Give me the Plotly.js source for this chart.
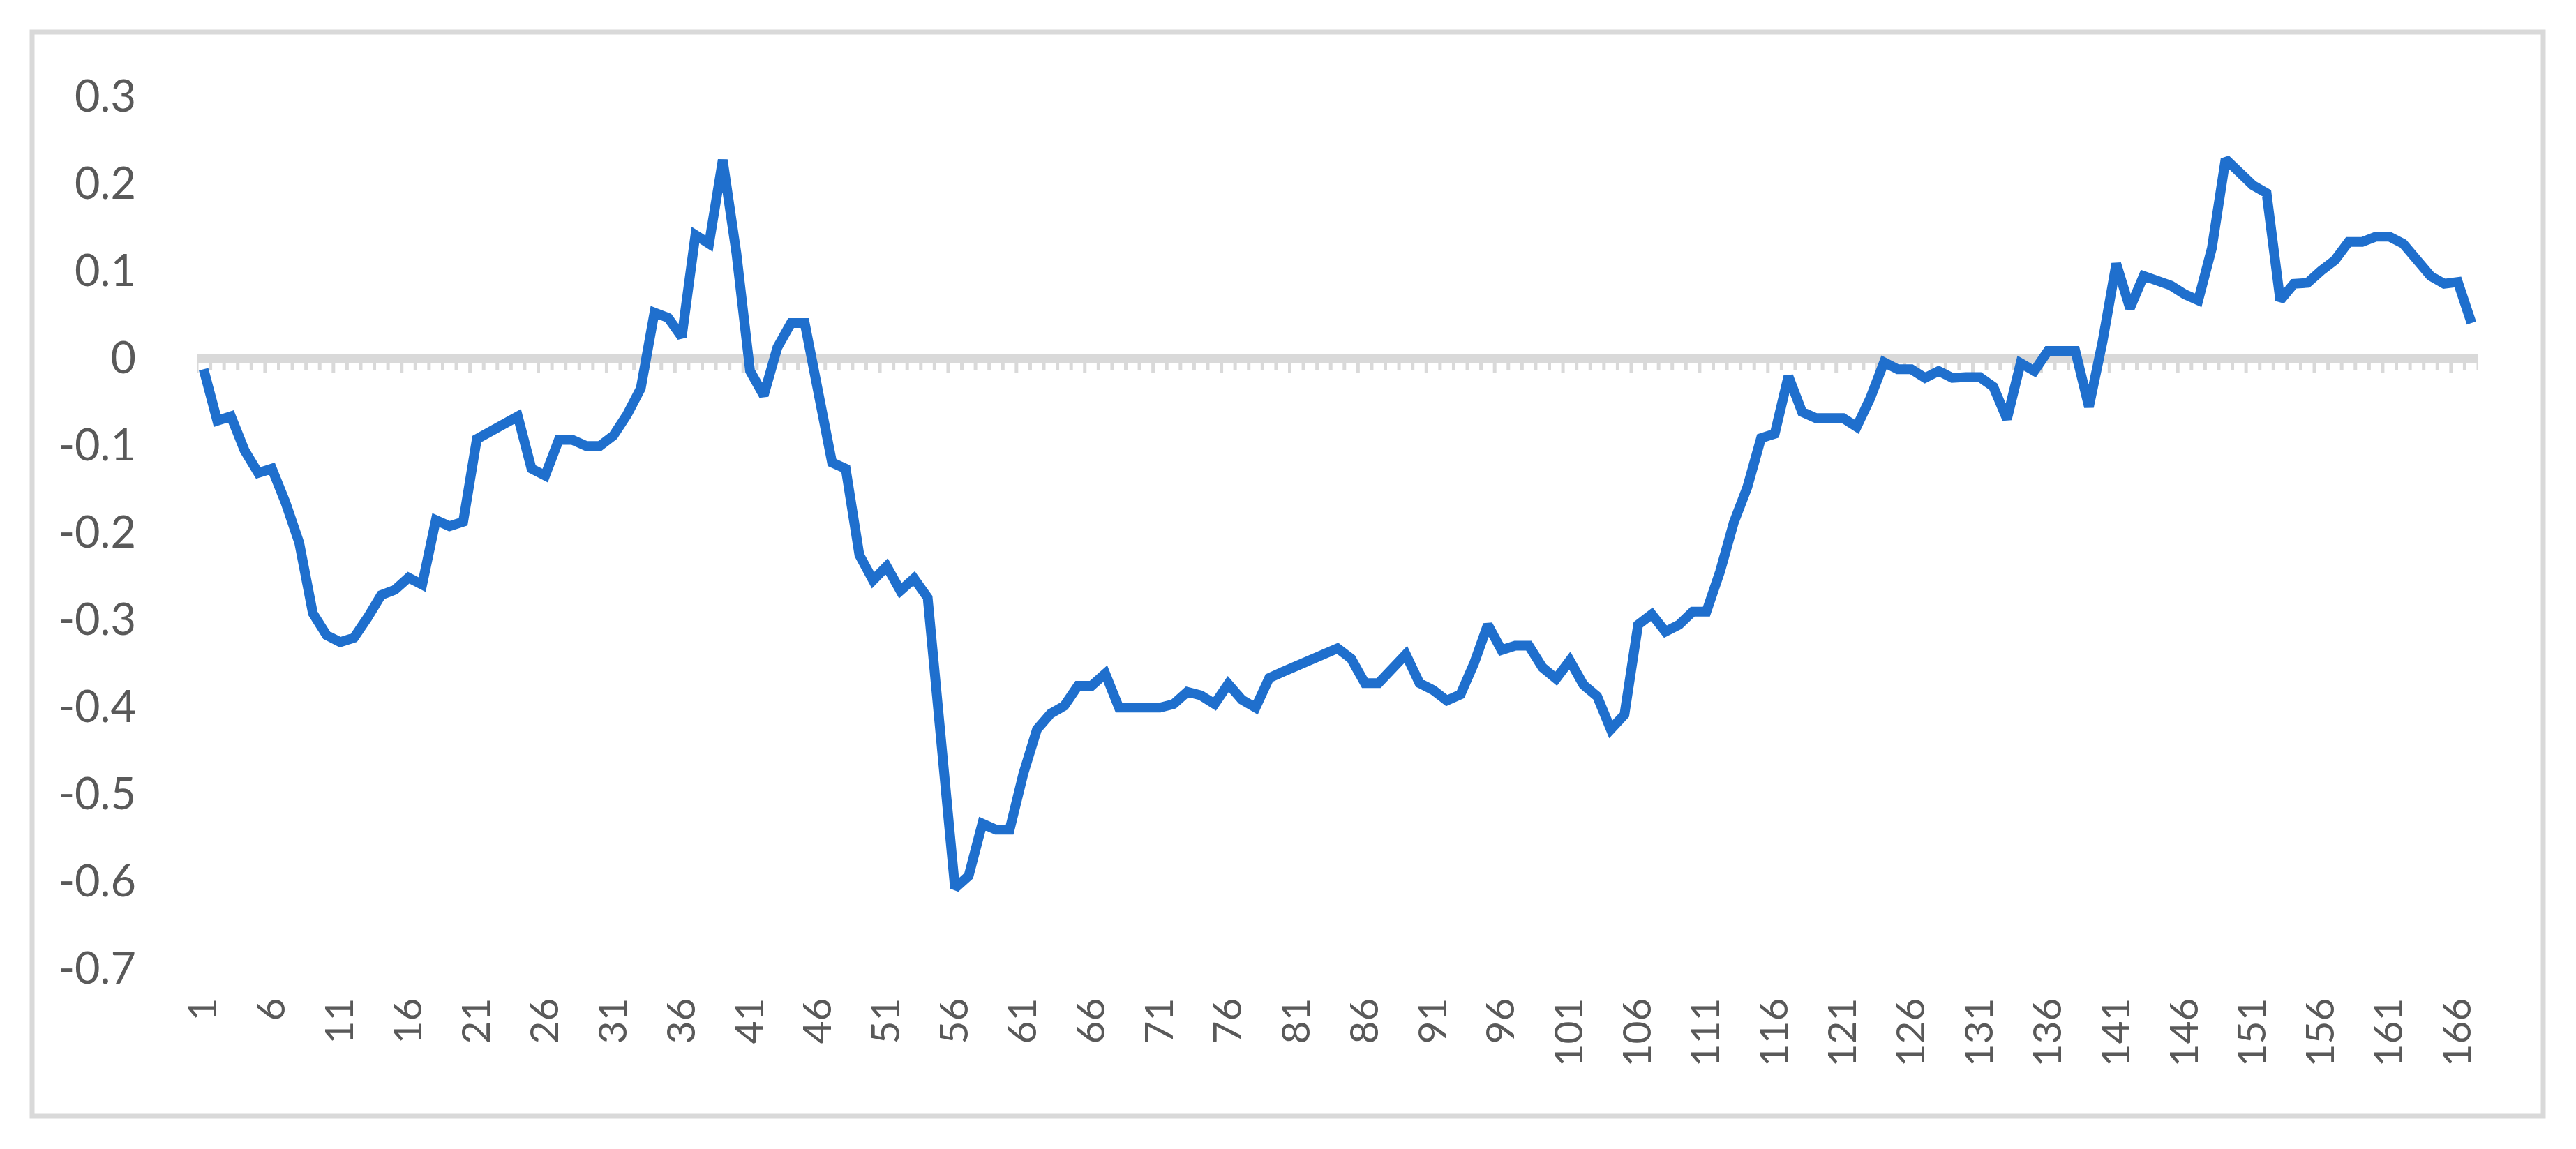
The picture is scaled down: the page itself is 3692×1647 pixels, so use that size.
<!DOCTYPE html>
<html>
<head>
<meta charset="utf-8">
<script src="https://cdn.plot.ly/plotly-3.0.1.min.js"></script>
<style>
html, body { margin: 0; padding: 0; background: #ffffff; }
#chart { width: 3692px; height: 1647px; }
</style>
</head>
<body>
<div id="chart"></div>
<script>
// ---- data ----
const values = [
  -0.013, -0.072, -0.067, -0.106, -0.132, -0.127, -0.166, -0.212, -0.293, -0.318,
  -0.326, -0.321, -0.298, -0.272, -0.266, -0.252, -0.260, -0.186, -0.193, -0.188,
  -0.093, -0.085, -0.076, -0.067, -0.127, -0.135, -0.094, -0.094, -0.101, -0.101,
  -0.089, -0.065, -0.035, 0.052, 0.046, 0.024, 0.141, 0.131, 0.227, 0.120,
  -0.015, -0.043, 0.012, 0.040, 0.040, -0.040, -0.120, -0.127, -0.226, -0.255,
  -0.239, -0.267, -0.253, -0.275, -0.440, -0.608, -0.594, -0.534, -0.541, -0.541,
  -0.477, -0.426, -0.408, -0.399, -0.376, -0.376, -0.362, -0.401, -0.401, -0.401,
  -0.401, -0.397, -0.383, -0.387, -0.397, -0.374, -0.392, -0.401, -0.367, -0.360,
  -0.353, -0.346, -0.339, -0.333, -0.345, -0.373, -0.373, -0.357, -0.340, -0.373,
  -0.381, -0.393, -0.386, -0.350, -0.306, -0.335, -0.330, -0.330, -0.355, -0.368,
  -0.347, -0.375, -0.388, -0.426, -0.409, -0.306, -0.294, -0.314, -0.306, -0.291,
  -0.291, -0.245, -0.189, -0.148, -0.092, -0.087, -0.021, -0.062, -0.069, -0.069,
  -0.069, -0.079, -0.046, -0.005, -0.013, -0.013, -0.023, -0.015, -0.023, -0.022,
  -0.022, -0.033, -0.070, -0.006, -0.015, 0.008, 0.008, 0.008, -0.056, 0.019,
  0.108, 0.057, 0.094, 0.089, 0.083, 0.073, 0.066, 0.126, 0.228, 0.213,
  0.198, 0.189, 0.066, 0.085, 0.086, 0.100, 0.112, 0.133, 0.133, 0.139,
  0.139, 0.131, 0.114, 0.094, 0.085, 0.087, 0.040
];
const categories = values.map((_, i) => i + 1);

const xTickVals = [1, 6, 11, 16, 21, 26, 31, 36, 41, 46, 51, 56, 61, 66, 71, 76, 81, 86,
  91, 96, 101, 106, 111, 116, 121, 126, 131, 136, 141, 146, 151, 156, 161, 166];
const xTickLabels = ['1', '6', '11', '16', '21', '26', '31', '36', '41', '46', '51', '56',
  '61', '66', '71', '76', '81', '86', '91', '96', '101', '106', '111', '116', '121', '126',
  '131', '136', '141', '146', '151', '156', '161', '166'];

const yTickVals = [0.3, 0.2, 0.1, 0, -0.1, -0.2, -0.3, -0.4, -0.5, -0.6, -0.7];
const yTickLabels = ['0.3', '0.2', '0.1', '0', '-0.1', '-0.2', '-0.3', '-0.4', '-0.5', '-0.6', '-0.7'];

// ---- layout geometry ----
const W = 3692, H = 1647;
const M = { l: 282, r: 140, t: 138, b: 259 };
const yMin = -0.7, yMax = 0.3;
const px2x = p => (p - M.l) / (W - M.l - M.r);
const py2y = p => (H - M.b - p) / (H - M.t - M.b);

const FONT = 'Lato, "Open Sans", "Noto Sans", sans-serif';
const GRAY_TXT = '#595959';
const AXIS_GRAY = '#d9d9d9';

const trace = {
  type: 'scatter',
  mode: 'lines',
  x: categories,
  y: values,
  line: { color: '#1f6fcd', width: 14, shape: 'linear' },
  hoverinfo: 'skip',
  showlegend: false
};

// tick marks hanging under the horizontal (value = 0) category axis, one per category boundary
const axisTicks = [];
for (let k = 0; k <= categories.length; k++) {
  axisTicks.push({
    type: 'line',
    xref: 'x', yref: 'y',
    x0: k + 0.5, x1: k + 0.5,
    ysizemode: 'pixel', yanchor: 0,
    y0: -4, y1: (k % 5 === 0) ? -22 : -18,
    line: { color: AXIS_GRAY, width: 5 },
    layer: 'below'
  });
}

const layout = {
  width: W,
  height: H,
  margin: M,
  paper_bgcolor: '#ffffff',
  plot_bgcolor: '#ffffff',
  showlegend: false,
  font: { family: FONT, color: GRAY_TXT, size: 64 },
  xaxis: {
    type: 'linear',
    range: [0.5, categories.length + 0.5],
    tickmode: 'array',
    tickvals: xTickVals,
    ticktext: xTickLabels,
    tickangle: -90,
    ticks: '',
    showline: false,
    showgrid: false,
    zeroline: false,
    ticklabelstandoff: 30,
    tickfont: { family: FONT, color: GRAY_TXT, size: 57 },
    fixedrange: true
  },
  yaxis: {
    range: [yMin, yMax],
    tickmode: 'array',
    tickvals: yTickVals,
    ticktext: yTickLabels,
    ticks: '',
    showline: false,
    showgrid: false,
    zeroline: true,
    zerolinecolor: AXIS_GRAY,
    zerolinewidth: 13,
    ticklabelstandoff: 86,
    tickfont: { family: FONT, color: GRAY_TXT, size: 63 },
    fixedrange: true
  },
  shapes: axisTicks.concat([{
    type: 'rect',
    xref: 'paper', yref: 'paper',
    x0: px2x(46), x1: px2x(3645),
    y0: py2y(1600), y1: py2y(46),
    line: { color: AXIS_GRAY, width: 7 },
    fillcolor: 'rgba(0,0,0,0)',
    layer: 'below'
  }])
};

Plotly.newPlot('chart', [trace], layout, { staticPlot: true, displayModeBar: false });
</script>
</body>
</html>
